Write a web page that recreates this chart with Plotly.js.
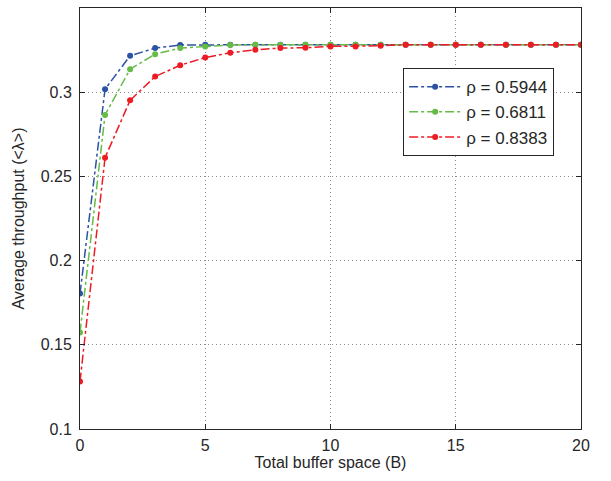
<!DOCTYPE html>
<html>
<head>
<meta charset="utf-8">
<script src="https://cdn.plot.ly/plotly-3.0.1.min.js"></script>
<style>html,body{margin:0;padding:0;background:#fff;}#chart{width:611px;height:481px;}</style>
</head>
<body>
<div id="chart"></div>
<script>
const bufferSpace = [0,1,2,3,4,5,6,7,8,9,10,11,12,13,14,15,16,17,18,19,20];
const seriesNames = ["ρ = 0.5944", "ρ = 0.6811", "ρ = 0.8383"];
const throughputLow = [0.1804,0.3018,0.3216,0.3262,0.3280,0.3282,0.3282,0.3282,0.3282,0.3282,0.3282,0.3282,0.3282,0.3282,0.3282,0.3282,0.3282,0.3282,0.3282,0.3282,0.3282];
const throughputMid = [0.1573,0.2865,0.3137,0.3226,0.3262,0.3272,0.3280,0.3282,0.3282,0.3282,0.3282,0.3282,0.3282,0.3282,0.3282,0.3282,0.3282,0.3282,0.3282,0.3282,0.3282];
const throughputHigh = [0.1282,0.2611,0.2952,0.3093,0.3160,0.3206,0.3234,0.3252,0.3262,0.3264,0.3272,0.3272,0.3276,0.3282,0.3282,0.3282,0.3282,0.3282,0.3282,0.3282,0.3282];
const colors = ["#2c52a3", "#66bb46", "#ed1c24"];
const xTicks = [0,5,10,15,20];
const yTicks = [0.1,0.15,0.2,0.25,0.3,0.35];
const yTickText = ["0.1","0.15","0.2","0.25","0.3","0.35"];

const ys = [throughputLow, throughputMid, throughputHigh];
const traces = ys.map((y, i) => ({
  x: bufferSpace, y: y, name: seriesNames[i], type: "scatter", mode: "lines+markers",
  line: {color: colors[i], width: 1.5, dash: "dashdot"},
  marker: {color: colors[i], size: 6}
}));

const font = {family: "Liberation Sans, Arial, sans-serif", size: 16, color: "#262626"};
const axisCommon = {
  showline: true, mirror: "ticks", linecolor: "#262626", linewidth: 1,
  ticks: "inside", ticklen: 5, tickcolor: "#262626",
  showgrid: true, gridcolor: "#8a8a8a", griddash: "1px,3px", gridwidth: 1,
  zeroline: false, tickfont: font
};
const layout = {
  width: 611, height: 481,
  margin: {l: 80, r: 30, t: 8, b: 52},
  paper_bgcolor: "#fff", plot_bgcolor: "#fff",
  font: font,
  showlegend: true,
  legend: {x: 0.645, y: 0.857, xanchor: "left", yanchor: "top",
    bgcolor: "#fff", bordercolor: "#262626", borderwidth: 1,
    itemwidth: 52,
    font: {family: "Liberation Sans, Arial, sans-serif", size: 17, color: "#262626"}},
  xaxis: Object.assign({}, axisCommon, {range: [0, 20], tickvals: xTicks, ticklabelstandoff: 2,
    title: {text: "Total buffer space (B)", font: font, standoff: 3}}),
  yaxis: Object.assign({}, axisCommon, {range: [0.1, 0.35], tickvals: yTicks, ticktext: yTickText, ticklabelstandoff: 4,
    title: {text: "Average throughput (<λ>)", font: font, standoff: 12}})
};
Plotly.newPlot("chart", traces, layout, {displayModeBar: false, staticPlot: true});
</script>
</body>
</html>
